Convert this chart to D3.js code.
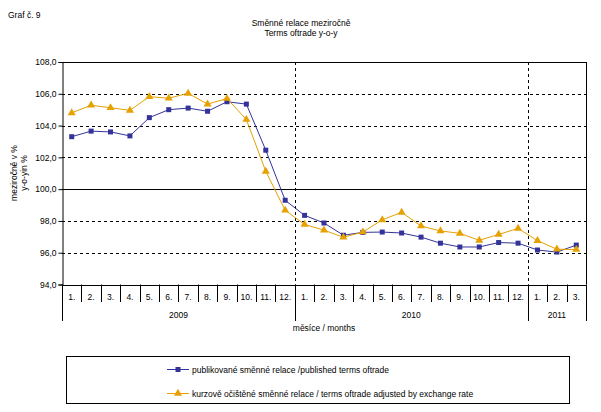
<!DOCTYPE html>
<html><head><meta charset="utf-8">
<script src="https://cdn.jsdelivr.net/npm/d3@7"></script>
<style>
body{margin:0;background:#fff;}
svg{display:block;font-family:"Liberation Sans",Arial,sans-serif;}
</style></head>
<body>
<svg id="c" width="601" height="412"></svg>
<script>
const months = ["1.","2.","3.","4.","5.","6.","7.","8.","9.","10.","11.","12.",
                "1.","2.","3.","4.","5.","6.","7.","8.","9.","10.","11.","12.",
                "1.","2.","3."];
const years = [{label:"2009", n:12},{label:"2010", n:12},{label:"2011", n:3}];
const published = [103.3,103.65,103.6,103.35,104.5,105.0,105.1,104.9,105.5,105.35,102.45,99.3,
                   98.35,97.87,97.1,97.28,97.3,97.24,96.98,96.6,96.36,96.36,96.64,96.6,
                   96.17,96.04,96.48];
const adjusted = [104.8,105.28,105.12,104.96,105.82,105.72,106.03,105.35,105.7,104.38,101.12,98.67,
                  97.78,97.42,96.97,97.3,98.07,98.54,97.68,97.37,97.22,96.78,97.15,97.53,
                  96.76,96.22,96.2];
const yTicks = [94,96,98,100,102,104,106,108];
const seriesNames = ["publikované směnné relace /published terms oftrade",
                     "kurzově očištěné směnné relace / terms oftrade adjusted by exchange rate"];
const colors = ["#333399","#E6A000"];

const svg = d3.select("#c");
const L=62, R=586, T=62, B=284.5;
const x = d3.scaleBand().domain(d3.range(months.length)).range([L,R]).paddingInner(0).paddingOuter(0);
const y = d3.scaleLinear().domain([94,108]).range([B,T]);
const cx = i => x(i) + x.bandwidth()/2;

// titles
svg.append("text").attr("x",8).attr("y",18).attr("font-size",8.5).text("Graf č. 9");
svg.append("text").attr("x",301).attr("y",26).attr("font-size",8.5).attr("text-anchor","middle").text("Směnné relace meziročně");
svg.append("text").attr("x",301).attr("y",36).attr("font-size",8.5).attr("text-anchor","middle").text("Terms oftrade y-o-y");

// gridlines
yTicks.forEach(v=>{
  if(v===94) return;
  svg.append("line").attr("x1",L).attr("x2",R).attr("y1",Math.round(y(v))+0.5).attr("y2",Math.round(y(v))+0.5)
    .attr("stroke","#000").attr("stroke-width",1)
    .attr("stroke-dasharray",(v===100||v===108)?null:"3,3");
});
// year boundary dashed verticals
let acc=0;
years.slice(0,-1).forEach(yr=>{ acc+=yr.n;
  const xx=Math.round(x(acc))+0.5;
  svg.append("line").attr("x1",xx).attr("x2",xx).attr("y1",T).attr("y2",B).attr("stroke","#000").attr("stroke-dasharray","3,3");
});
// right border
svg.append("line").attr("x1",R+0.5).attr("x2",R+0.5).attr("y1",T).attr("y2",B).attr("stroke","#000");

// y axis
const yAxis = d3.axisLeft(y).tickValues(yTicks).tickSize(4).tickFormat(d=>d3.format(".1f")(d).replace(".",","));
const ga = svg.append("g").attr("transform",`translate(${L+0.5},0)`).call(yAxis);
ga.select(".domain").attr("stroke","#000");
ga.selectAll("text").attr("font-size",8.5).attr("font-family","Liberation Sans, Arial, sans-serif").attr("fill","#000").attr("x",-6);
ga.selectAll("line").attr("stroke","#000");

// y title
const yt = svg.append("text").attr("transform","translate(17,173) rotate(-90)").attr("font-size",8.5).attr("text-anchor","middle");
yt.append("tspan").attr("x",0).attr("dy",0).text("meziročně v %");
yt.append("tspan").attr("x",0).attr("dy",10).text("y-o-yin %");

// x axis line
svg.append("line").attr("x1",L).attr("x2",R).attr("y1",Math.round(B)+0.5).attr("y2",Math.round(B)+0.5).attr("stroke","#000");
// month separators
for(let i=0;i<=months.length;i++){
  const xx=Math.round(i<months.length?x(i):R)+0.5;
  let isYear=false, s=0; if(i===0) isYear=true;
  years.forEach(yr=>{s+=yr.n; if(s===i) isYear=true;});
  svg.append("line").attr("x1",xx).attr("x2",xx).attr("y1",B).attr("y2",isYear?321:302).attr("stroke","#000");
}
months.forEach((m,i)=>{
  svg.append("text").attr("x",cx(i)).attr("y",300).attr("font-size",8.5).attr("text-anchor","middle").text(m);
});
acc=0;
years.forEach(yr=>{
  const x0=x(acc), x1=(acc+yr.n<months.length)?x(acc+yr.n):R;
  svg.append("text").attr("x",(x0+x1)/2).attr("y",318).attr("font-size",8.5).attr("text-anchor","middle").text(yr.label);
  acc+=yr.n;
});
svg.append("text").attr("x",(L+R)/2).attr("y",331).attr("font-size",8.5).attr("text-anchor","middle").text("měsíce / months");

// series
const line = d3.line().x((d,i)=>cx(i)).y(d=>y(d));
const sq = d3.symbol().type(d3.symbolSquare).size(25);
const tri = d3.symbol().type(d3.symbolTriangle).size(28);
[published, adjusted].forEach((data,k)=>{
  svg.append("path").datum(data).attr("d",line).attr("fill","none").attr("stroke",colors[k]).attr("stroke-width",1);
  svg.selectAll(null).data(data).enter().append("path")
    .attr("d",k===0?sq:tri)
    .attr("transform",(d,i)=>`translate(${cx(i)},${y(d)})`)
    .attr("fill",colors[k]);
});

// legend
svg.append("rect").attr("x",66.5).attr("y",356.5).attr("width",503).attr("height",47).attr("fill","none").attr("stroke","#000");
const ly=[369,393];
seriesNames.forEach((n,k)=>{
  svg.append("line").attr("x1",167).attr("x2",189).attr("y1",ly[k]+0.5).attr("y2",ly[k]+0.5).attr("stroke",colors[k]);
  svg.append("path").attr("d",k===0?sq:tri).attr("transform",`translate(178,${ly[k]+0.5})`).attr("fill",colors[k]);
  svg.append("text").attr("x",192).attr("y",ly[k]+3.5).attr("font-size",8.5).text(n);
});
</script>
</body></html>
